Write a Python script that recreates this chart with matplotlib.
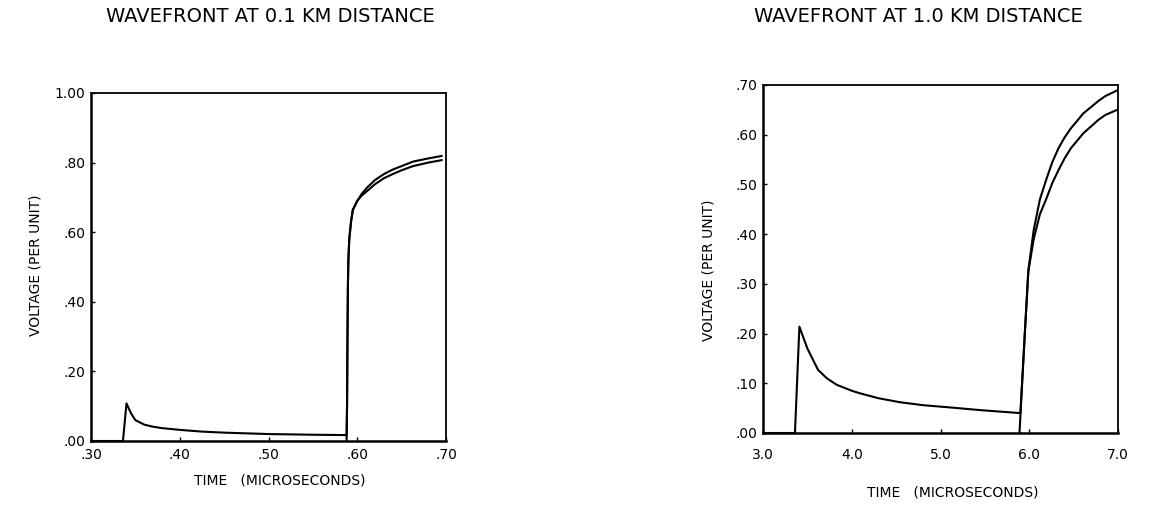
import numpy as np
import matplotlib
matplotlib.use('Agg')
import matplotlib.pyplot as plt

# 0.1 km panel
t1_a = [0.30, 0.336, 0.340, 0.345, 0.350, 0.360, 0.370, 0.380, 0.400, 0.425, 0.450, 0.500, 0.550, 0.588,
        0.5885, 0.589, 0.5895, 0.590, 0.591, 0.593, 0.595, 0.600, 0.605, 0.611, 0.620, 0.630, 0.640,
        0.650, 0.663, 0.680, 0.695]
v1_a = [0.0, 0.0, 0.108, 0.080, 0.060, 0.047, 0.041, 0.037, 0.032, 0.027, 0.024, 0.020, 0.018, 0.017,
        0.10, 0.30, 0.45, 0.52, 0.58, 0.63, 0.664, 0.69, 0.71, 0.728, 0.750, 0.767, 0.780,
        0.790, 0.803, 0.812, 0.819]
t1_b = [0.588, 0.5885, 0.589, 0.5895, 0.590, 0.591, 0.593, 0.595, 0.600, 0.605, 0.611, 0.620, 0.630,
        0.640, 0.650, 0.663, 0.680, 0.695]
v1_b = [0.0, 0.10, 0.30, 0.45, 0.52, 0.58, 0.63, 0.664, 0.69, 0.705, 0.718, 0.738, 0.755,
        0.767, 0.778, 0.790, 0.800, 0.807]

# 1.0 km panel
t2_a = [3.0, 3.36, 3.41, 3.50, 3.62, 3.72, 3.83, 4.00, 4.09, 4.30, 4.54, 4.80, 5.07, 5.45, 5.90,
        5.95, 5.99, 6.05, 6.12, 6.19, 6.26, 6.33, 6.40, 6.47, 6.61, 6.78, 6.86, 6.99]
v2_a = [0.0, 0.0, 0.214, 0.170, 0.127, 0.110, 0.097, 0.085, 0.080, 0.070, 0.062, 0.056, 0.052, 0.046, 0.040,
        0.20, 0.328, 0.408, 0.470, 0.509, 0.545, 0.573, 0.595, 0.613, 0.643, 0.668, 0.678, 0.689]
t2_b = [5.89, 5.95, 5.99, 6.05, 6.12, 6.19, 6.26, 6.33, 6.40, 6.47, 6.61, 6.78, 6.86, 6.99]
v2_b = [0.0, 0.20, 0.325, 0.390, 0.440, 0.470, 0.503, 0.529, 0.553, 0.573, 0.603, 0.630, 0.640, 0.650]

x1_ticks = [0.30, 0.40, 0.50, 0.60, 0.70]
x1_labels = ['.30', '.40', '.50', '.60', '.70']
y1_ticks = [0.0, 0.2, 0.4, 0.6, 0.8, 1.0]
y1_labels = ['.00', '.20', '.40', '.60', '.80', '1.00']
x2_ticks = [3.0, 4.0, 5.0, 6.0, 7.0]
x2_labels = ['3.0', '4.0', '5.0', '6.0', '7.0']
y2_ticks = [0.0, 0.1, 0.2, 0.3, 0.4, 0.5, 0.6, 0.7]
y2_labels = ['.00', '.10', '.20', '.30', '.40', '.50', '.60', '.70']

W, H = 1166, 508
fig = plt.figure(figsize=(W / 100, H / 100), dpi=100)
ax1 = fig.add_axes([91 / W, (H - 441) / H, 355 / W, 348 / H])
ax2 = fig.add_axes([763 / W, (H - 433) / H, 355 / W, 348 / H])


def style(ax, xt, xl, yt, yl, xpad):
    ax.set_xticks(xt)
    ax.set_xticklabels(xl)
    ax.set_yticks(yt)
    ax.set_yticklabels(yl)
    ax.tick_params(direction='in', length=3, width=1, labelsize=10, pad=4)
    ax.tick_params(axis='x', pad=xpad)
    for s in ['left', 'bottom']:
        ax.spines[s].set_linewidth(1.8)
    for s in ['top', 'right']:
        ax.spines[s].set_linewidth(1.3)


ax1.plot(t1_a, v1_a, color='black', lw=1.5)
ax1.plot(t1_b, v1_b, color='black', lw=1.5)
ax1.set_xlim(0.30, 0.70)
ax1.set_ylim(0.0, 1.0)
style(ax1, x1_ticks, x1_labels, y1_ticks, y1_labels, 5)

ax2.plot(t2_a, v2_a, color='black', lw=1.5)
ax2.plot(t2_b, v2_b, color='black', lw=1.5)
ax2.set_xlim(3.0, 7.0)
ax2.set_ylim(0.0, 0.70)
style(ax2, x2_ticks, x2_labels, y2_ticks, y2_labels, 11)

fig.text(270 / W, 1 - 16 / H, 'WAVEFRONT AT 0.1 KM DISTANCE', ha='center', va='center', fontsize=14)
fig.text(918 / W, 1 - 16 / H, 'WAVEFRONT AT 1.0 KM DISTANCE', ha='center', va='center', fontsize=14)
fig.text(280 / W, 1 - 480 / H, 'TIME   (MICROSECONDS)', ha='center', va='center', fontsize=10)
fig.text(953 / W, 1 - 492 / H, 'TIME   (MICROSECONDS)', ha='center', va='center', fontsize=10)
fig.text(36 / W, 1 - 265 / H, 'VOLTAGE (PER UNIT)', ha='center', va='center', rotation=90, fontsize=10)
fig.text(708 / W, 1 - 270 / H, 'VOLTAGE (PER UNIT)', ha='center', va='center', rotation=90, fontsize=10)

fig.savefig('out.png', dpi=100)
